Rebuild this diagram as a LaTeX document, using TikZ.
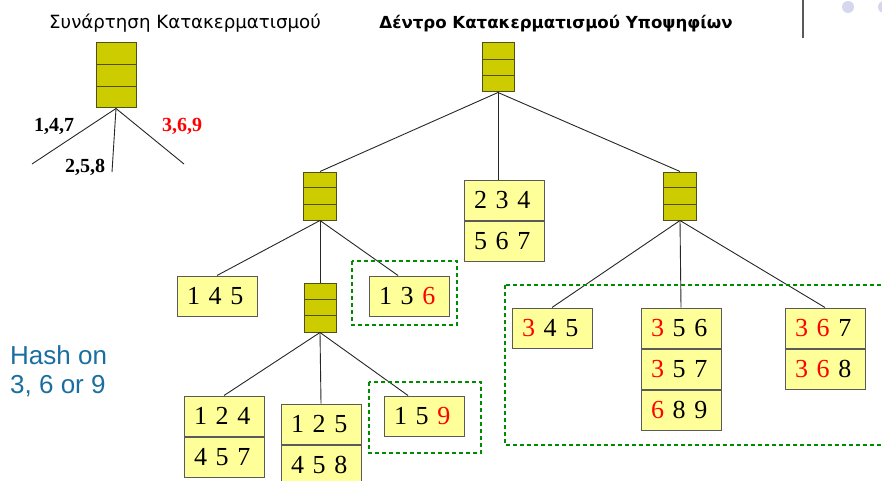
\documentclass[tikz,border=0pt]{standalone}
\usepackage{fontspec}
\setmainfont{Liberation Serif}
\newfontfamily\titlefont{DejaVu Sans}
\newfontfamily\notefont{Liberation Sans}
\usetikzlibrary{calc}

\definecolor{hashfill}{RGB}{204,204,0}
\definecolor{hashedge}{RGB}{80,80,20}
\definecolor{leaffill}{RGB}{255,255,153}
\definecolor{leafedge}{RGB}{90,90,90}
\definecolor{groupgreen}{RGB}{0,140,0}
\definecolor{hotred}{RGB}{255,0,0}
\definecolor{noteblue}{RGB}{26,110,160}
\definecolor{dotgray}{RGB}{214,214,236}

\newcommand\redd[1]{\textcolor{hotred}{#1}}

% hash table node: a box split into three equal slots
\newcommand\hashtable[5]{%
  \node[hashbox,minimum width=#4pt,minimum height=#5pt] (#1) at (#2,#3) {};
  \draw[hashline] ($(#1.north west)!1/3!(#1.south west)$) -- ($(#1.north east)!1/3!(#1.south east)$);
  \draw[hashline] ($(#1.north west)!2/3!(#1.south west)$) -- ($(#1.north east)!2/3!(#1.south east)$);}

\begin{document}
\begin{tikzpicture}[x=1pt,y=-1pt,
  hashbox/.style={draw=hashedge,fill=hashfill,line width=1pt,inner sep=0pt},
  hashline/.style={draw=hashedge,line width=1pt},
  cell/.style={draw=leafedge,fill=leaffill,line width=1pt,minimum width=80pt,minimum height=40pt,
    text width=60pt,inner xsep=10pt,inner ysep=0pt,align=left,font=\fontsize{26}{28}\selectfont},
  edge/.style={draw=black!85,line width=0.9pt},
  group/.style={draw=groupgreen,line width=1.1pt,dash pattern=on 4pt off 3pt},
  branch/.style={font=\bfseries\fontsize{20}{22}\selectfont,anchor=base west,inner sep=0pt}]
\useasboundingbox (0,0) rectangle (882,481);

% titles
\node[font=\titlefont\fontsize{18.2}{20}\selectfont,anchor=base,inner sep=0pt] (t1) at (185,29) {Συνάρτηση Κατακερματισμού};
\node[font=\titlefont\bfseries\fontsize{16.6}{19}\selectfont,anchor=base,inner sep=0pt] (t2) at (556,29) {Δέντρο Κατακερματισμού Υποψηφίων};

% slide decoration, top right
\draw[draw=black!65,line width=1.2pt] (803,0) -- (803,38);
\fill[dotgray] (848,7) circle (6);
\fill[dotgray] (884,7) circle (6);

% the hash function
\hashtable{fh}{116}{75.5}{40}{65}
\coordinate (fl) at (32,164);
\coordinate (fm) at (112,172);
\coordinate (fr) at (184,164);
\draw[edge] (fh.south) -- (fl);
\draw[edge] (fh.south) -- (fm);
\draw[edge] (fh.south) -- (fr);
\node[branch] (l147) at (34,132) {1,4,7};
\node[branch,text=hotred] (l369) at (162,132) {3,6,9};
\node[branch] (l258) at (65,172) {2,5,8};

% note
\node[font=\notefont\fontsize{26}{29}\selectfont,text=noteblue,align=left,anchor=base west,inner sep=0pt] (note) at (10,393) {Hash on\\3, 6 or 9};

% hash tree: interior nodes
\hashtable{root}{498}{67.5}{32}{49}
\hashtable{h1}{320}{196}{33}{48}
\hashtable{h2}{680}{196}{33}{48}
\hashtable{h3}{320}{307.5}{32}{49}

% hash tree: leaves
\node[cell] (b145) at (217,296) {1 4 5};
\node[cell] (b136) at (409,296) {1 3 \redd{6}};
\node[cell] (b234) at (504,200) {2 3 4};
\node[cell,anchor=north] (b567) at (b234.south) {5 6 7};
\node[cell] (b124) at (224,416) {1 2 4};
\node[cell,anchor=north] (b457) at (b124.south) {4 5 7};
\node[cell] (b125) at (321,424) {1 2 5};
\node[cell,anchor=north] (b458) at (b125.south) {4 5 8};
\node[cell] (b159) at (424,416) {1 5 \redd{9}};
\node[cell] (b345) at (552,328) {\redd{3} 4 5};
\node[cell] (b356) at (681,328) {\redd{3} 5 6};
\node[cell,anchor=north] (b357) at (b356.south) {\redd{3} 5 7};
\node[cell,anchor=north] (b689) at (b357.south) {\redd{6} 8 9};
\node[cell] (b367) at (825,328) {\redd{3} \redd{6} 7};
\node[cell,anchor=north] (b368) at (b367.south) {\redd{3} \redd{6} 8};

% connectors
\draw[edge] (root.south) -- (h1.north);
\draw[edge] (root.south) -- (root.south |- b234.north);
\draw[edge] (root.south) -- (h2.north);
\draw[edge] (h1.south) -- (b145.north);
\draw[edge] (h1.south) -- (h3.north);
\draw[edge] (h1.south) -- ($(b136.north)+(-11,0)$);
\draw[edge] (h3.south) -- (b124.north);
\draw[edge] (h3.south) -- (b125.north);
\draw[edge] (h3.south) -- ($(b159.north)+(-16,0)$);
\draw[edge] (h2.south) -- (b345.north);
\draw[edge] (h2.south) -- (b356.north);
\draw[edge] (h2.south) -- (b367.north);

% candidate groups that hash on 3, 6 or 9
\draw[group] (352,261) rectangle (457,325);
\draw[group] (369,382) rectangle (481,453);
\draw[group] (505,285) rectangle (890,445);
\end{tikzpicture}
\end{document}
